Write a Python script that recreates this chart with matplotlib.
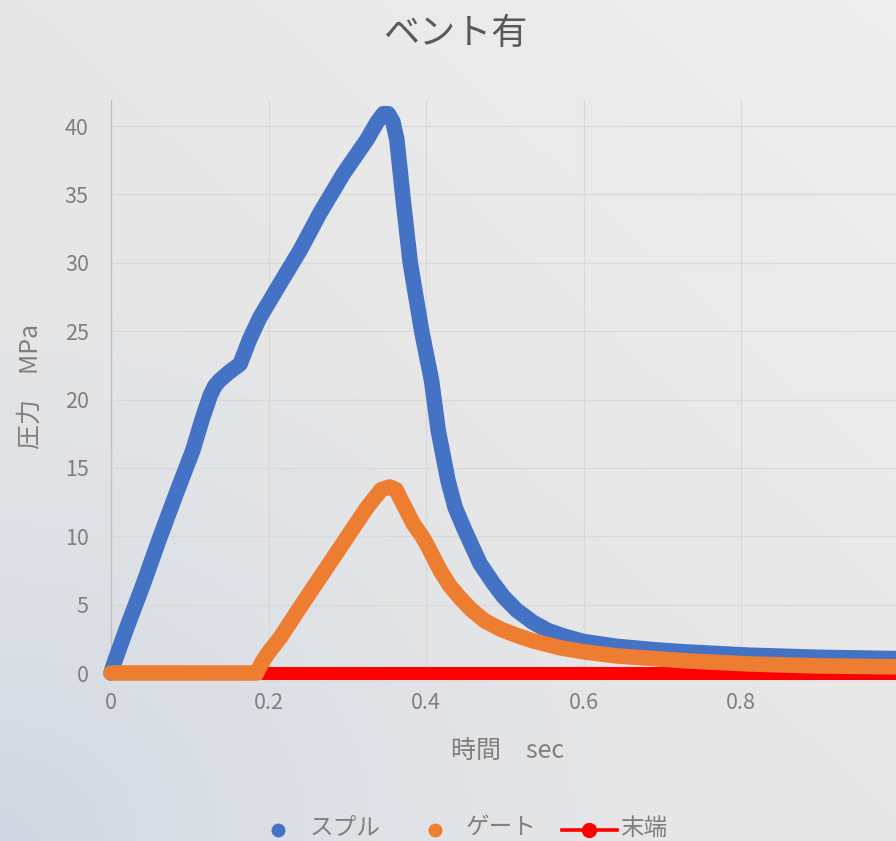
import numpy as np
import matplotlib
matplotlib.use("Agg")
import matplotlib.pyplot as plt
from matplotlib.lines import Line2D

plt.rcParams['font.family'] = ['Noto Sans CJK JP', 'DejaVu Sans']

# ---- data ----
title = "ベント有"
x_label = "時間　sec"
y_label = "圧力　MPa"
series_names = ["スプル", "ゲート", "末端"]

sprue_t = [0, 0.005, 0.02, 0.041, 0.062, 0.084, 0.104, 0.116, 0.126, 0.132, 0.138, 0.150,
           0.164, 0.176, 0.189, 0.219, 0.240, 0.265, 0.295, 0.325, 0.338, 0.346, 0.352,
           0.358, 0.363, 0.371, 0.380, 0.3945, 0.407, 0.4156, 0.428, 0.437, 0.4495, 0.4686,
           0.485, 0.498, 0.515, 0.536, 0.555, 0.575, 0.60, 0.642, 0.69, 0.727, 0.811, 0.896, 1.0]
sprue_p = [0, 0.9, 3.3, 6.5, 9.9, 13.3, 16.3, 18.6, 20.3, 21.0, 21.4, 22.0,
           22.6, 24.4, 26.0, 28.9, 30.9, 33.6, 36.5, 39.0, 40.3, 40.9, 40.9,
           40.3, 39.0, 34.6, 30.0, 25.0, 21.4, 17.7, 14.05, 12.1, 10.4, 8.0,
           6.6, 5.6, 4.6, 3.7, 3.1, 2.7, 2.3, 1.95, 1.7, 1.55, 1.3, 1.15, 1.05]

gate_t = [0, 0.05, 0.10, 0.15, 0.185, 0.192, 0.200, 0.215, 0.240, 0.282, 0.325,
          0.343, 0.354, 0.362, 0.367, 0.384, 0.395, 0.401, 0.418, 0.43, 0.443, 0.458, 0.475,
          0.495, 0.515, 0.536, 0.570, 0.60, 0.642, 0.727, 0.811, 0.896, 1.0]
gate_p = [0, 0, 0, 0, 0, 0.8, 1.5, 2.6, 4.8, 8.4, 12.1,
          13.4, 13.6, 13.4, 12.8, 10.9, 10.0, 9.4, 7.5, 6.4, 5.5, 4.6, 3.8,
          3.2, 2.75, 2.35, 1.85, 1.55, 1.25, 0.9, 0.66, 0.52, 0.45]

end_t = [0.19, 0.4, 0.6, 0.8, 1.0]
end_p = [0, 0, 0, 0, 0]

x_ticks = [0, 0.2, 0.4, 0.6, 0.8]
x_tick_labels = ["0", "0.2", "0.4", "0.6", "0.8"]
y_ticks = [0, 5, 10, 15, 20, 25, 30, 35, 40]

blue = "#4472C4"
orange = "#ED7D31"
red = "#FF0000"
text_gray = "#7f7f7f"

W, H = 896, 841
fig = plt.figure(figsize=(W / 100, H / 100), dpi=100)

# background gradient
bg = fig.add_axes([0, 0, 1, 1], zorder=-10)
gx, gy = np.meshgrid(np.linspace(0, 1, 300), np.linspace(1, 0, 300))
d = np.sqrt((gx * 1.0) ** 2 + (gy * 1.1) ** 2)
f = np.clip(d / 0.75, 0, 1) ** 0.8
c0 = np.array([0.815, 0.845, 0.89])
c1 = np.array([0.905, 0.905, 0.905])
c2 = np.array([0.935, 0.935, 0.935])
f2 = np.clip((gx + gy - 1.0) / 1.0, 0, 1)
img = c0[None, None, :] * (1 - f[..., None]) + c1[None, None, :] * f[..., None]
img = img * (1 - f2[..., None]) + c2[None, None, :] * f2[..., None]
bg.imshow(img, aspect='auto', extent=[0, 1, 0, 1], interpolation='bilinear')
bg.axis('off')

ax = fig.add_axes([111 / W, (H - 673) / H, 787.5 / W, 573 / H])
ax.patch.set_alpha(0)
ax.set_xlim(0, 1.0)
ax.set_ylim(0, 573 / 13.675)

lw_main = 11.2
ax.plot(end_t, end_p, color=red, lw=9.4, solid_capstyle='butt', zorder=3, clip_on=False)
ax.plot(gate_t, gate_p, color=orange, lw=lw_main, solid_capstyle='round',
        solid_joinstyle='round', zorder=4, clip_on=False)
ax.plot(sprue_t, sprue_p, color=blue, lw=lw_main, solid_capstyle='round',
        solid_joinstyle='round', zorder=3.5, clip_on=False)

ax.set_xticks(x_ticks)
ax.set_xticklabels(x_tick_labels)
ax.set_yticks(y_ticks)
ax.grid(True, color="#d9d9d9", lw=0.9, zorder=0)
ax.set_axisbelow(True)
for s in ["top", "right", "bottom"]:
    ax.spines[s].set_visible(False)
ax.spines["left"].set_color("#bfbfbf")
ax.spines["left"].set_linewidth(0.9)
ax.tick_params(length=0, labelsize=15.5, labelcolor=text_gray)
ax.tick_params(axis='y', pad=16)
ax.tick_params(axis='x', pad=14)

fig.text(507 / W, 1 - 751 / H, x_label, ha='center', va='center', fontsize=18, color=text_gray)
fig.text(31 / W, 1 - 386 / H, y_label, ha='center', va='center', rotation=90,
         fontsize=18, color=text_gray)
fig.text(455 / W, 1 - 34 / H, title, ha='center', va='center', fontsize=26, color="#595959")

# legend (manual placement)
ly = 1 - 830 / H
fig.add_artist(Line2D([278 / W], [ly], color=blue, marker='o', ls='none', markersize=9,
                      transform=fig.transFigure))
fig.add_artist(Line2D([435 / W], [ly], color=orange, marker='o', ls='none', markersize=9,
                      transform=fig.transFigure))
fig.add_artist(Line2D([562 / W, 617 / W], [ly, ly], color=red, ls='-', lw=2.6,
                      transform=fig.transFigure))
fig.add_artist(Line2D([589 / W], [ly], color=red, marker='o', ls='none', markersize=10,
                      transform=fig.transFigure))
for xpos, name in zip([310, 466, 620], series_names):
    fig.text(xpos / W, 1 - 828 / H, name, ha='left', va='center', fontsize=17, color=text_gray)

fig.savefig("out.png", dpi=100)
